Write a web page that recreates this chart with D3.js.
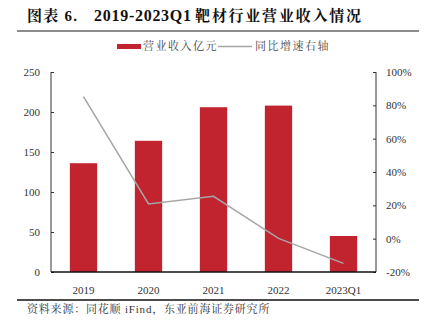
<!DOCTYPE html>
<html><head><meta charset="utf-8">
<script src="https://cdn.jsdelivr.net/npm/d3@7"></script>
<style>body{margin:0;background:#fff}svg{display:block}</style>
</head><body>
<svg id="c" width="428" height="336"></svg>
<script>
const categories = ["2019","2020","2021","2022","2023Q1"];
const revenue = [136, 164, 206, 208, 45];
const growth = [85.2, 20.8, 25.4, 0.2, -14.8];
const leftTicks = [0, 50, 100, 150, 200, 250];
const rightTicks = [-20, 0, 20, 40, 60, 80, 100];
const titleParts = ["图表 6.", "2019-2023Q1", "靶材行业营业收入情况"];
const legendLabels = ["营业收入亿元", "同比增速右轴"];
const sourceText = "资料来源：同花顺 iFind，东亚前海证券研究所";

const svg = d3.select("#c");
const serif = "'Liberation Serif','Times New Roman',serif";
const cjk = "'Liberation Serif','Noto Serif CJK SC','Noto Sans CJK SC',serif";
const barColor = "#c1232f", lineColor = "#a6a6a6";

const L = 51, R = 376, T = 72, B = 272;
const x = d3.scaleBand().domain(categories).range([L, R]).paddingInner(0.58).paddingOuter(0.29);
const y = d3.scaleLinear().domain([0, 250]).range([B, T]);
const y2 = d3.scaleLinear().domain([-20, 100]).range([B, T]);

// title
const tt = svg.append("text").attr("y", 21).attr("font-family", cjk)
  .attr("font-weight", "bold").attr("font-size", 15).attr("fill", "#111");
tt.append("tspan").attr("x", 27).attr("textLength", 50).attr("lengthAdjust", "spacing").text(titleParts[0]);
tt.append("tspan").attr("x", 94).attr("font-size", 16).attr("textLength", 97).attr("lengthAdjust", "spacing").text(titleParts[1]);
tt.append("tspan").attr("x", 195).attr("textLength", 166).attr("lengthAdjust", "spacing").text(titleParts[2]);
svg.append("line").attr("x1", 17).attr("x2", 419).attr("y1", 31).attr("y2", 31)
  .attr("stroke", "#666").attr("stroke-width", 1.5);

// legend
svg.append("rect").attr("x", 117).attr("y", 44).attr("width", 24).attr("height", 5).attr("fill", barColor);
svg.append("text").attr("x", 143).attr("y", 50).attr("font-family", cjk).attr("font-size", 11)
  .attr("fill", "#444").attr("letter-spacing", 1.5).text(legendLabels[0]);
svg.append("line").attr("x1", 218).attr("x2", 252).attr("y1", 46.5).attr("y2", 46.5)
  .attr("stroke", lineColor).attr("stroke-width", 1.5);
svg.append("text").attr("x", 255).attr("y", 50).attr("font-family", cjk).attr("font-size", 11)
  .attr("fill", "#444").attr("letter-spacing", 1.5).text(legendLabels[1]);

// bars
svg.append("g").selectAll("rect").data(categories).join("rect")
  .attr("x", d => x(d)).attr("width", x.bandwidth())
  .attr("y", (d, i) => y(revenue[i])).attr("height", (d, i) => B - y(revenue[i]))
  .attr("fill", barColor);

// line
const line = d3.line().x((d, i) => x(categories[i]) + x.bandwidth() / 2).y(d => y2(d));
svg.append("path").datum(growth).attr("d", line).attr("fill", "none")
  .attr("stroke", lineColor).attr("stroke-width", 1.5);

// axes
const la = svg.append("g").attr("transform", `translate(${L},0)`)
  .call(d3.axisRight(y).tickValues(leftTicks).tickSize(3).tickFormat(d3.format("d")));
la.select(".domain").remove();
la.selectAll("line").attr("stroke", "#333");
la.selectAll("text").attr("x", -11).attr("text-anchor", "end")
  .attr("font-family", serif).attr("font-size", 11).attr("fill", "#333");
svg.append("line").attr("x1", L).attr("x2", L).attr("y1", T).attr("y2", B).attr("stroke", "#333").attr("stroke-width", 1);

const ra = svg.append("g").attr("transform", `translate(${R},0)`)
  .call(d3.axisLeft(y2).tickValues(rightTicks).tickSize(3).tickFormat(d => d + "%"));
ra.select(".domain").remove();
ra.selectAll("line").attr("stroke", "#333");
ra.selectAll("text").attr("x", 10).attr("text-anchor", "start")
  .attr("font-family", serif).attr("font-size", 11).attr("fill", "#333");
svg.append("line").attr("x1", R).attr("x2", R).attr("y1", T).attr("y2", B).attr("stroke", "#333").attr("stroke-width", 1);

const xa = svg.append("g").attr("transform", `translate(0,${B})`)
  .call(d3.axisBottom(x).tickSize(0).tickPadding(14));
xa.select(".domain").attr("stroke", "#111").attr("stroke-width", 1.5).attr("d", `M${L},0H${R}`);
xa.selectAll("text").attr("font-family", serif).attr("font-size", 11).attr("fill", "#333");

// source
svg.append("line").attr("x1", 17).attr("x2", 419).attr("y1", 300).attr("y2", 300)
  .attr("stroke", "#111").attr("stroke-width", 1.5);
svg.append("text").attr("x", 27).attr("y", 313).attr("font-family", cjk).attr("font-size", 11)
  .attr("fill", "#333").attr("letter-spacing", 0.8).text(sourceText);
</script>
</body></html>
